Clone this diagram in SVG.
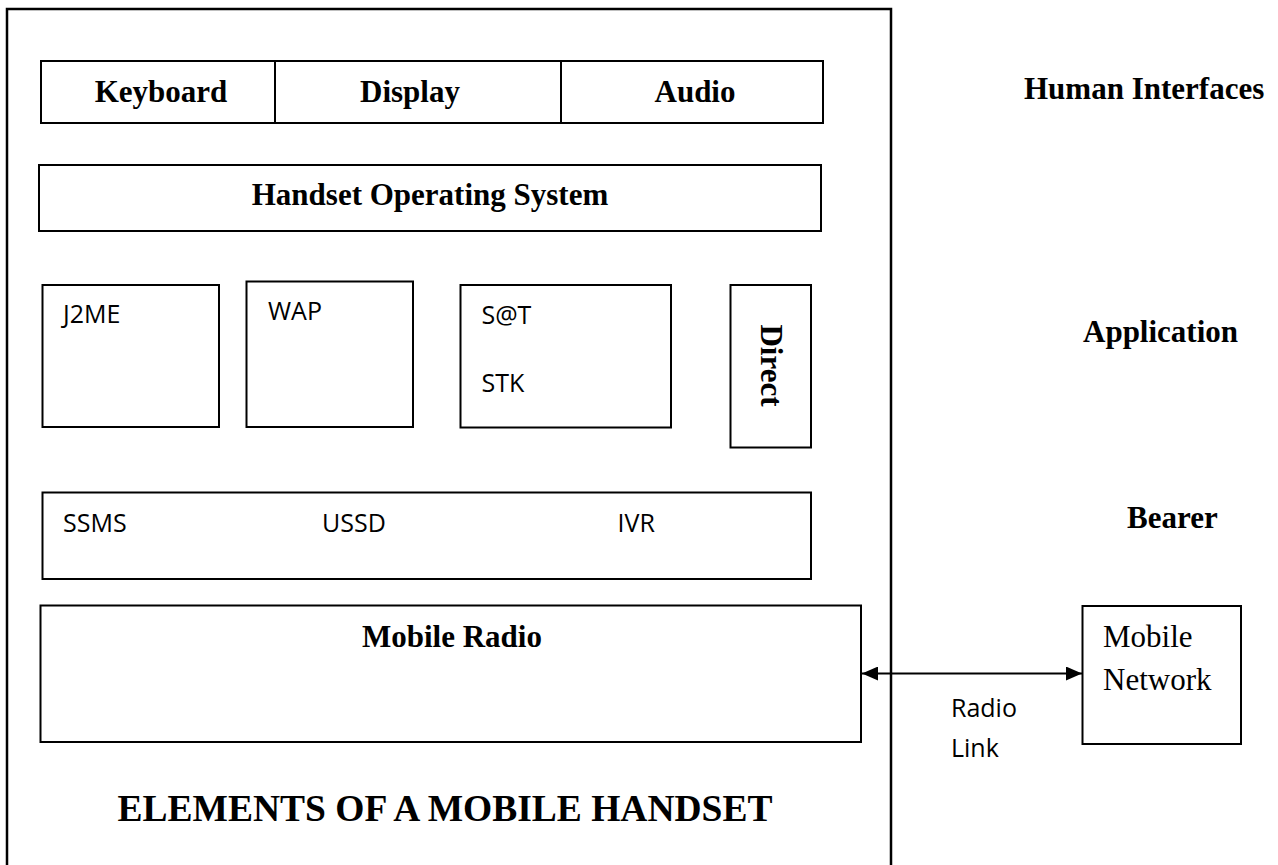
<svg xmlns="http://www.w3.org/2000/svg" width="1278" height="865" viewBox="0 0 1278 865">
  <style>
    .box { fill: #fff; stroke: #000; stroke-width: 2; }
    .frame { fill: none; stroke: #000; stroke-width: 2.5; }
    .bold { font-family: "Liberation Serif", "Times New Roman", serif; font-weight: bold; font-size: 31px; fill: #000; }
    .serif { font-family: "Liberation Serif", "Times New Roman", serif; font-size: 31px; fill: #000; }
    .sans { font-family: "Open Sans", "Noto Sans", sans-serif; font-size: 25px; fill: #000; }
    .title { font-family: "Liberation Serif", "Times New Roman", serif; font-weight: bold; font-size: 37.5px; fill: #000; }
    .link { stroke: #000; stroke-width: 2; fill: none; }
  </style>
  <defs>
    <marker id="arrow" viewBox="0 0 16 14" refX="16" refY="7" markerWidth="16" markerHeight="14" markerUnits="userSpaceOnUse" orient="auto-start-reverse">
      <path d="M0,0 L16,7 L0,14 Z" fill="#000"/>
    </marker>
  </defs>

  <rect width="1278" height="865" fill="#fff"/>

  <!-- handset outline (open at the bottom) -->
  <g id="handset">
    <path class="frame" d="M7,870 L7,9 L891,9 L891,870"/>
  </g>

  <!-- human interface row -->
  <g id="human-interfaces">
    <rect class="box" x="41" y="61" width="782" height="62"/>
    <line class="link" x1="275" y1="61" x2="275" y2="123"/>
    <line class="link" x1="561" y1="61" x2="561" y2="123"/>
    <text class="bold" x="161" y="102" text-anchor="middle">Keyboard</text>
    <text class="bold" x="410" y="102" text-anchor="middle">Display</text>
    <text class="bold" x="695" y="102" text-anchor="middle">Audio</text>
  </g>

  <g id="os">
    <rect class="box" x="39" y="165" width="782" height="66"/>
    <text class="bold" x="430" y="205" text-anchor="middle">Handset Operating System</text>
  </g>

  <g id="j2me">
    <rect class="box" x="42.5" y="285" width="176.5" height="142"/>
    <text class="sans" x="63" y="323">J2ME</text>
  </g>

  <g id="wap">
    <rect class="box" x="246.5" y="281.5" width="166.5" height="145.5"/>
    <text class="sans" x="268" y="320">WAP</text>
  </g>

  <g id="sat-stk">
    <rect class="box" x="460.5" y="285" width="210.5" height="142.5"/>
    <text class="sans" x="481.5" y="324">S@T</text>
    <text class="sans" x="481.5" y="392">STK</text>
  </g>

  <g id="direct">
    <rect class="box" x="730.5" y="285" width="80.5" height="162.5"/>
    <text class="bold" transform="translate(761,365.5) rotate(90)" text-anchor="middle">Direct</text>
  </g>

  <g id="bearers">
    <rect class="box" x="42.5" y="492.5" width="768.5" height="86.5"/>
    <text class="sans" x="63" y="532">SSMS</text>
    <text class="sans" x="322" y="532">USSD</text>
    <text class="sans" x="617.5" y="532">IVR</text>
  </g>

  <g id="mobile-radio">
    <rect class="box" x="40.5" y="605.5" width="820.5" height="136.5"/>
    <text class="bold" x="452" y="647" text-anchor="middle">Mobile Radio</text>
  </g>

  <g id="mobile-network">
    <rect class="box" x="1082.5" y="606" width="158.5" height="138"/>
    <text class="serif" x="1103" y="647">Mobile</text>
    <text class="serif" x="1103" y="690">Network</text>
  </g>

  <!-- layer labels -->
  <g id="layer-labels">
    <text class="bold" x="1024" y="99">Human Interfaces</text>
    <text class="bold" x="1083" y="342">Application</text>
    <text class="bold" x="1127" y="528">Bearer</text>
  </g>

  <g id="caption">
    <text class="title" x="445" y="821" text-anchor="middle">ELEMENTS OF A MOBILE HANDSET</text>
  </g>

  <!-- connectors -->
  <g id="connectors">
    <line class="link" x1="862" y1="673.5" x2="1082" y2="673.5" marker-start="url(#arrow)" marker-end="url(#arrow)"/>
    <text class="sans" x="951" y="717">Radio</text>
    <text class="sans" x="951" y="757">Link</text>
  </g>
</svg>
